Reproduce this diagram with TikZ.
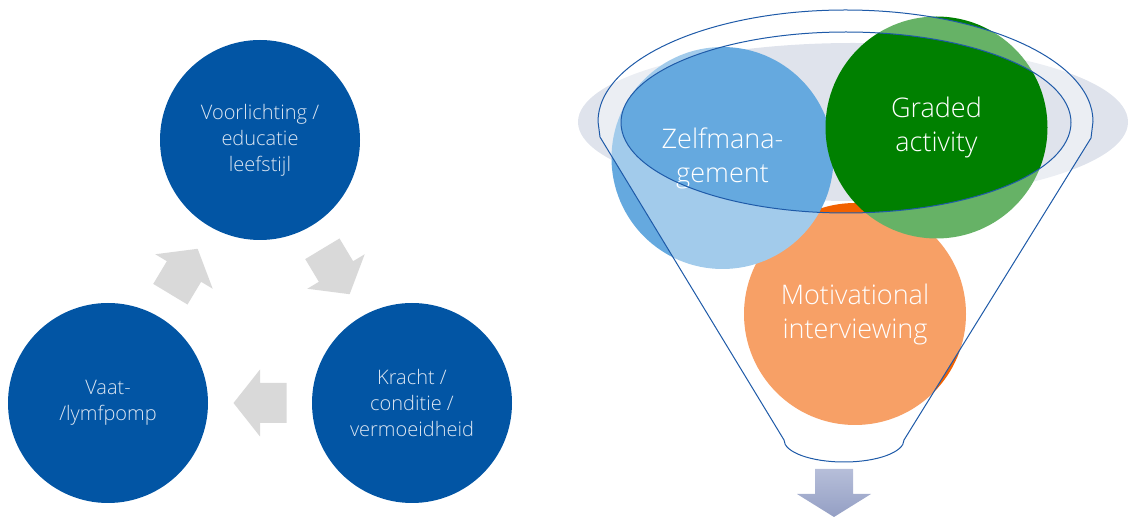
\documentclass[tikz,border=0pt]{standalone}
\usepackage{fontspec}
\setmainfont{Open Sans}[UprightFont={* Light}]
\usepackage{tikz}
\usetikzlibrary{calc, positioning}
\definecolor{cycleblue}{RGB}{2,85,164}
\definecolor{cycletext}{RGB}{220,230,242}
\definecolor{arrowgray}{RGB}{217,217,217}
\definecolor{zelfblue}{RGB}{101,169,223}
\definecolor{gradedgreen}{RGB}{0,128,0}
\definecolor{motivorange}{RGB}{242,97,0}
\definecolor{rimgray}{RGB}{223,227,236}
\definecolor{funnelline}{RGB}{30,90,168}
\definecolor{downtop}{RGB}{182,190,217}
\definecolor{downbottom}{RGB}{148,159,196}
\newcommand{\funneloutline}{(598,395.5) arc[start angle=180, end angle=0, x radius=247.5, y radius=111.5] -- (1091,379) -- (904,77) arc[start angle=0, end angle=-180, x radius=60, y radius=22] -- (600,380) -- cycle}

\begin{document}
\begin{tikzpicture}[
    x=1pt, y=1pt,
    phase/.style={circle, fill=cycleblue, minimum size=200pt, inner sep=0pt, text=cycletext, align=center, font=\fontsize{20}{26}\selectfont},
    focus/.style={circle, minimum size=222pt, inner sep=0pt, text=white, align=center, font=\fontsize{27}{34}\selectfont},
    cyclearrow/.pic={\fill[arrowgray] (-26.5,-20) -- (0,-20) -- (0,-33.5) -- (26.5,0) -- (0,33.5) -- (0,20) -- (-26.5,20) -- cycle;},
    rim/.style={draw=funnelline, line width=1pt}
]
    \useasboundingbox (0,0) rectangle (1128,517);

    % Cycle (left)
    \node[phase] (educatie) at (260,377) {Voorlichting /\\educatie\\leefstijl};
    \node[phase] (kracht) at (412,114) {Kracht /\\conditie /\\vermoeidheid};
    \node[phase] (pomp) at (108,114) {Vaat-\\/lymfpomp};
    \pic[rotate=-59] at ($(educatie)!0.5!(kracht)$) {cyclearrow};
    \pic[rotate=180] at ($(kracht)!0.5!(pomp)$) {cyclearrow};
    \pic[rotate=59] at ($(pomp)!0.5!(educatie)$) {cyclearrow};

    % Funnel (right)
    \fill[rimgray] (853,395) ellipse[x radius=275, y radius=79];
    \node[focus, fill=motivorange] (motiv) at (855,203) {Motivational\\interviewing};
    \node[focus, fill=zelfblue] (zelf) at (722.5,359) {Zelfmana-\\gement};
    \node[focus, fill=gradedgreen] (graded) at (936.5,389.5) {Graded\\activity};
    \fill[white, opacity=0.4, even odd rule] \funneloutline (846,394.5) ellipse[x radius=225, y radius=90.5];
    \draw[rim] \funneloutline;
    \draw[rim] (846,394.5) ellipse[x radius=225, y radius=90.5];

    % Output arrow
    \shade[top color=downtop, bottom color=downbottom] (815,48) -- (853,48) -- (853,23) -- (871,23) -- (834,0) -- (797,23) -- (815,23) -- cycle;
\end{tikzpicture}
\end{document}
